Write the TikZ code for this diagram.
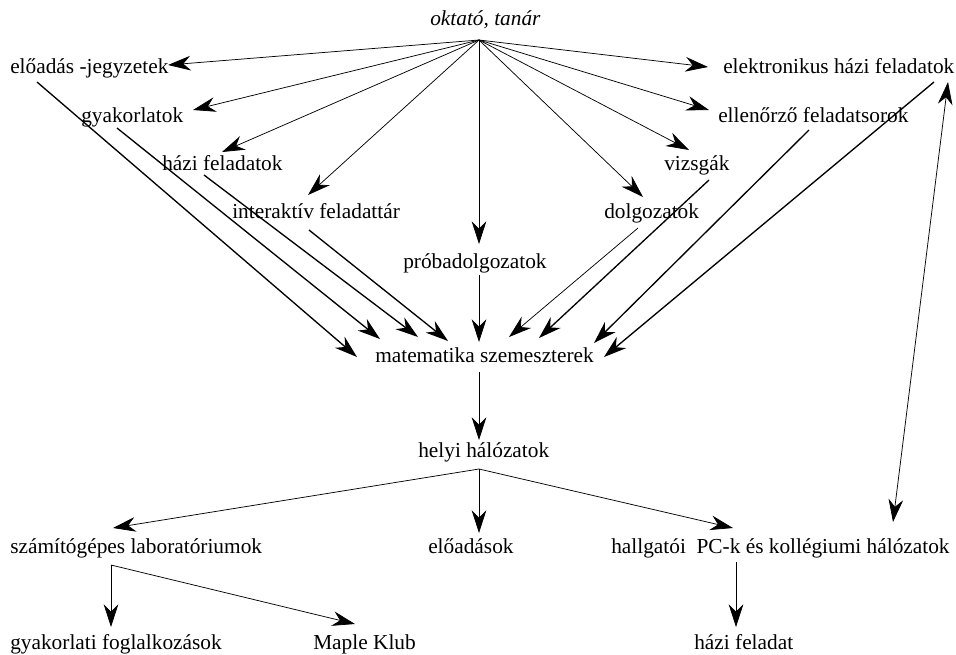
\documentclass[tikz,border=0pt]{standalone}
\usepackage{fontspec}
\setmainfont{Liberation Serif}
\usetikzlibrary{arrows.meta}
\begin{document}
\begin{tikzpicture}[x=0.75pt,y=-0.75pt,
  lbl/.style={inner sep=0pt, anchor=base west, font=\fontsize{16pt}{19pt}\selectfont},
  tip/.style={-{Stealth[length=17pt,width=11pt,inset=5.5pt]}},
  thinarr/.style={tip, line width=0.55pt},
  thickarr/.style={tip, line width=1.0pt},
  dblarr/.style={{Stealth[length=17pt,width=11pt,inset=5.5pt]}-{Stealth[length=17pt,width=11pt,inset=5.5pt]}, line width=0.55pt}]
\useasboundingbox (0,0) rectangle (956,654);
% nodes
\node[lbl] (okt) at (430,25) {\textit{oktató, tanár}};
\node[lbl] (ejegy) at (10,73) {előadás -jegyzetek};
\node[lbl] (gyak) at (81,122) {gyakorlatok};
\node[lbl] (hazi) at (162,170) {házi feladatok};
\node[lbl] (inter) at (232,218) {interaktív feladattár};
\node[lbl] (proba) at (403,268) {próbadolgozatok};
\node[lbl] (dolg) at (604,218) {dolgozatok};
\node[lbl] (vizs) at (664,170) {vizsgák};
\node[lbl] (ell) at (718,122) {ellenőrző feladatsorok};
\node[lbl] (elek) at (723,73) {elektronikus házi feladatok};
\node[lbl] (mat) at (375,362) {matematika szemeszterek};
\node[lbl] (helyi) at (418,457) {helyi hálózatok};
\node[lbl] (szam) at (10,553) {számítógépes laboratóriumok};
\node[lbl] (elo) at (428,553) {előadások};
\node[lbl] (hall) at (611,553) {hallgatói\hspace{0.5em}PC-k és kollégiumi hálózatok};
\node[lbl] (gyf) at (10,649) {gyakorlati foglalkozások};
\node[lbl] (maple) at (313,649) {Maple Klub};
\node[lbl] (hf) at (694,649) {házi feladat};
% ports
\coordinate (o) at (479,40);
\coordinate (t1) at (168,65);
\coordinate (t2) at (193,110);
\coordinate (t3) at (222,152);
\coordinate (t4) at (308,195);
\coordinate (t5) at (479,244);
\coordinate (t6) at (643,197);
\coordinate (t7) at (689,150);
\coordinate (t8) at (709,110);
\coordinate (t9) at (708,67);
\coordinate (s1) at (37,82);   \coordinate (m1) at (357,357);
\coordinate (s2) at (117,128); \coordinate (m2) at (380,339);
\coordinate (s3) at (204,175); \coordinate (m3) at (418,337);
\coordinate (s4) at (309,230); \coordinate (m4) at (448,341);
\coordinate (s5) at (479,275); \coordinate (m5) at (479,342);
\coordinate (s6) at (638,228); \coordinate (m6) at (509,337);
\coordinate (s7) at (709,180); \coordinate (m7) at (539,338);
\coordinate (s8) at (809,130); \coordinate (m8) at (594,343);
\coordinate (s9) at (934,82);  \coordinate (m9) at (604,357);
\coordinate (mo) at (479,372); \coordinate (hi) at (479,440);
\coordinate (ho) at (479,469);
\coordinate (szi) at (113,528); \coordinate (eli) at (479,533); \coordinate (hai) at (733,528);
\coordinate (eb) at (948,82); \coordinate (hb) at (893,522);
\coordinate (szo) at (111,565); \coordinate (gyi) at (111,627); \coordinate (mpi) at (355,624);
\coordinate (hao) at (736,562); \coordinate (hfi) at (736,627);
% connectors from oktató
\foreach \t in {t1,t2,t3,t4,t5,t6,t7,t8,t9} \draw[thinarr] (o) -- (\t);
% into matematika
\draw[thickarr] (s1) -- (m1);
\draw[thickarr] (s2) -- (m2);
\draw[thickarr] (s3) -- (m3);
\draw[thickarr] (s4) -- (m4);
\draw[thinarr] (s5) -- (m5);
\draw[thinarr] (s6) -- (m6);
\draw[thickarr] (s7) -- (m7);
\draw[thickarr] (s8) -- (m8);
\draw[thickarr] (s9) -- (m9);
% lower part
\draw[thinarr] (mo) -- (hi);
\draw[thinarr] (ho) -- (szi);
\draw[thinarr] (ho) -- (eli);
\draw[thinarr] (ho) -- (hai);
\draw[dblarr] (eb) -- (hb);
\draw[thinarr] (szo) -- (gyi);
\draw[thinarr] (szo) -- (mpi);
\draw[thinarr] (hao) -- (hfi);
\end{tikzpicture}
\end{document}
